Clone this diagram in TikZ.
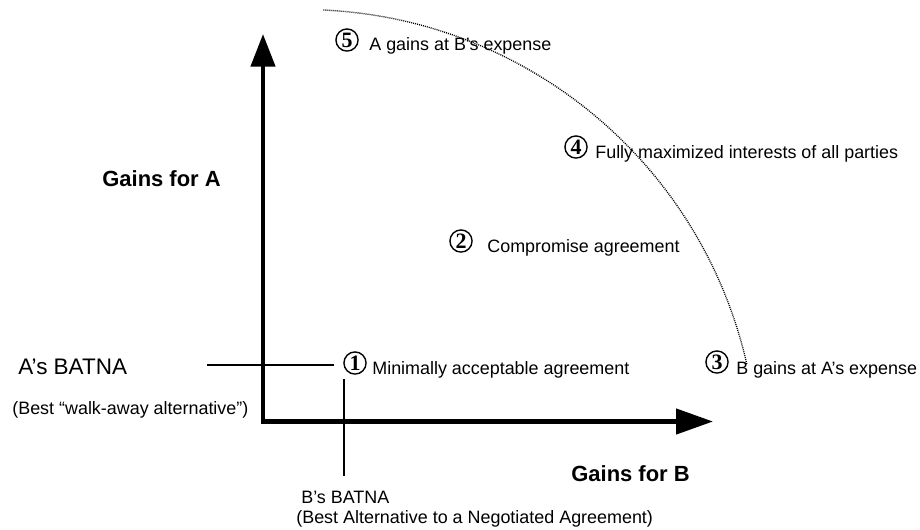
\documentclass[tikz,border=0pt]{standalone}
\usepackage{fontspec}
\setmainfont{Liberation Sans}
\newfontfamily\numfont{Liberation Serif}
\usetikzlibrary{arrows.meta}
\tikzset{
  axis/.style={
    line width=2.5pt, line join=miter,
    arrows={Triangle[length=18.5pt, width=13.6pt]-Triangle[length=21pt, width=14.2pt]}
  },
  batna/.style={line width=0.95pt},
  frontier/.style={line width=0.75pt, dash pattern=on 0.55pt off 0.6pt},
  num/.style={
    circle, draw, line width=0.8pt,
    inner sep=0pt, minimum size=12.6pt,
    font=\numfont\bfseries\fontsize{12.5}{12.5}\selectfont
  },
  lbl/.style={font=\fontsize{10.2}{12}\selectfont, inner sep=0pt, anchor=base west},
  biglbl/.style={font=\fontsize{12.8}{14}\selectfont, inner sep=0pt, anchor=base west},
  axislbl/.style={font=\bfseries\fontsize{12.5}{14}\selectfont, inner sep=0pt, anchor=base west}
}

\begin{document}
\begin{tikzpicture}[x=0.02cm, y=-0.02cm]
\useasboundingbox (0,0) rectangle (920,529);

% Axes
\coordinate (origin) at (263,421.5);
\coordinate (ytip) at (263,34);
\coordinate (xtip) at (713,421.5);
\draw[axis] (ytip) -- (origin) -- (xtip);

\node[axislbl] (gainsA) at (102,186) {Gains for A};
\node[axislbl] (gainsB) at (571,481) {Gains for B};

% Frontier of possible agreements
\coordinate (frontier) at (323.3,10);
\draw[frontier] (frontier) arc[start angle=-87.4, end angle=-12.7, radius=455.5];

% Numbered outcomes
\node[num] (n5) at (347,40) {5};
\node[lbl] (t5) at (369,50) {A gains at B’s expense};
\node[num] (n4) at (576,147) {4};
\node[lbl] (t4) at (595,158) {Fully maximized interests of all parties};
\node[num] (n2) at (461,241) {2};
\node[lbl] (t2) at (487,252) {Compromise agreement};
\node[num] (n1) at (355,363) {1};
\node[lbl] (t1) at (372,374) {Minimally acceptable agreement};
\node[num] (n3) at (717,362) {3};
\node[lbl] (t3) at (736,374) {B gains at A’s expense};

% BATNA lines
\coordinate (abatnaW) at (207,365);
\coordinate (abatnaE) at (334,365);
\draw[batna] (abatnaW) -- (abatnaE);
\coordinate (bbatnaN) at (344,379);
\coordinate (bbatnaS) at (344,476);
\draw[batna] (bbatnaN) -- (bbatnaS);

\node[biglbl] (abatna) at (18,374) {A’s BATNA};
\node[lbl] (abest) at (12,414) {(Best “walk-away alternative”)};
\node[lbl] (bbatna) at (301,503) {B’s BATNA};
\node[lbl] (bbest) at (296,523) {(Best Alternative to a Negotiated Agreement)};

\end{tikzpicture}
\end{document}
